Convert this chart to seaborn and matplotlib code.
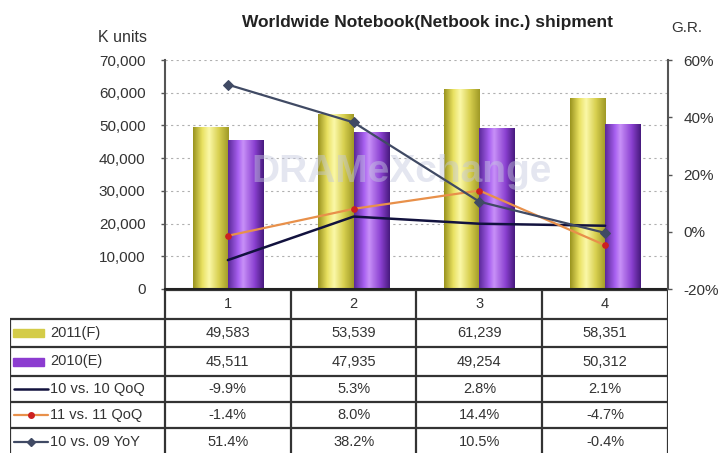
import numpy as np
import pandas as pd
import matplotlib
matplotlib.use('Agg')
import matplotlib.pyplot as plt
from matplotlib.colors import LinearSegmentedColormap
from matplotlib.patches import Rectangle
from matplotlib.lines import Line2D
import seaborn as sns

# данные с картинки
quarters = ['1', '2', '3', '4']
ship_2011 = [49583, 53539, 61239, 58351]
ship_2010 = [45511, 47935, 49254, 50312]
qoq_10 = [-9.9, 5.3, 2.8, 2.1]
qoq_11 = [-1.4, 8.0, 14.4, -4.7]
yoy_10 = [51.4, 38.2, 10.5, -0.4]

bar_names = ['2011(F)', '2010(E)']
line_names = ['10 vs. 10 QoQ', '11 vs. 11 QoQ', '10 vs. 09 YoY']

yellow = '#d4cc48'
purple = '#8c3cd0'
c_qoq10 = '#12123e'
c_qoq11 = '#e8904a'
c_qoq11_mk = '#cc2020'
c_yoy = '#404a64'

sns.set_style('white')
plt.rcParams['font.family'] = ['Liberation Sans', 'DejaVu Sans']
txt_col = '#333333'
fs_tick = 11
fs_tab = 10.5

fig = plt.figure(figsize=(7.2, 4.53), dpi=100)
W, H = 720, 453
ax = fig.add_axes([165 / W, 1 - 289 / H, (668 - 165) / W, (289 - 60) / H])

bars = pd.DataFrame({
    'quarter': quarters * 2,
    'value': ship_2011 + ship_2010,
    'series': [bar_names[0]] * 4 + [bar_names[1]] * 4,
})
sns.barplot(data=bars, x='quarter', y='value', hue='series', hue_order=bar_names,
            palette=[yellow, purple], saturation=1, width=0.56, gap=0, ax=ax,
            legend=False, zorder=2, linewidth=0)

# цилиндрическая заливка столбцов
cmap_y = LinearSegmentedColormap.from_list('y', [(0, '#9a9420'), (0.25, '#e8e060'), (0.45, '#fbf8a8'),
                                                (0.72, '#d8d050'), (1, '#a09a26')])
cmap_p = LinearSegmentedColormap.from_list('p', [(0, '#5c2a9a'), (0.28, '#a860f0'), (0.42, '#c890f8'),
                                                (0.75, '#8a40d0'), (1, '#481a7e')])
g = np.linspace(0, 1, 64)[np.newaxis, :]
for i, p in enumerate(list(ax.patches)):
    cmap = cmap_y if i < len(quarters) else cmap_p
    x0, y0, w, h = p.get_x(), p.get_y(), p.get_width(), p.get_height()
    im = ax.imshow(g, cmap=cmap, extent=[x0, x0 + w, y0, y0 + h], aspect='auto', zorder=2.1)
    im.set_clip_path(p)

ax.set_xlim(-0.5, 3.5)
ax.set_ylim(0, 70000)
ax.set_yticks(range(0, 70001, 10000))
ax.set_yticklabels([f'{v:,}' for v in range(0, 70001, 10000)], fontsize=fs_tick, color=txt_col)
ax.set_xticks([])
ax.set_xlabel('')
ax.set_ylabel('')
ax.yaxis.grid(True, color='#b0b0b0', linestyle=(0, (2, 3)), linewidth=0.8)
ax.set_axisbelow(True)
ax.tick_params(axis='y', length=3, width=1, pad=11, direction='out', left=True, color='#555555')
ax.spines['top'].set_visible(False)
ax.spines['left'].set_color('#555555')
ax.spines['left'].set_linewidth(1.5)
ax.spines['bottom'].set_color('#222222')
ax.spines['bottom'].set_linewidth(1.5)
ax.spines['right'].set_visible(False)

ax.text(0.47, 0.51, 'DRAMeXchange', transform=ax.transAxes, fontsize=28, fontweight='bold',
        color='#c4c8de', alpha=0.45, ha='center', va='center', zorder=5)

# темпы роста на правой оси
ax2 = ax.twinx()
xs = [0, 1, 2, 3]
sns.lineplot(x=xs, y=qoq_10, ax=ax2, color=c_qoq10, linewidth=1.8, zorder=3)
sns.lineplot(x=xs, y=qoq_11, ax=ax2, color=c_qoq11, linewidth=1.6, marker='o', markersize=4,
             markerfacecolor=c_qoq11_mk, markeredgecolor=c_qoq11_mk, zorder=3)
sns.lineplot(x=xs, y=yoy_10, ax=ax2, color=c_yoy, linewidth=1.6, marker='D', markersize=5,
             markeredgecolor=c_yoy, zorder=3)
ax2.set_xlim(-0.5, 3.5)
ax2.set_ylim(-20, 60)
ax2.set_yticks([-20, 0, 20, 40, 60])
ax2.set_yticklabels([f'{v}%' for v in [-20, 0, 20, 40, 60]], fontsize=fs_tick, color=txt_col)
ax2.tick_params(axis='y', length=3, width=1, pad=8, direction='out', right=True, color='#555555')
for s in ['top', 'left', 'bottom']:
    ax2.spines[s].set_visible(False)
ax2.spines['right'].set_color('#555555')
ax2.spines['right'].set_linewidth(1.5)
ax2.set_ylabel('')

fig.text(427 / W, 1 - 23 / H, 'Worldwide Notebook(Netbook inc.) shipment', fontsize=12.5,
         fontweight='bold', ha='center', va='center', color='#222222')
fig.text(122 / W, 1 - 38 / H, 'K units', fontsize=11.5, ha='center', va='center', color=txt_col)
fig.text(687 / W, 1 - 28 / H, 'G.R.', fontsize=fs_tick, ha='center', va='center', color=txt_col)

# таблица под графиком
cat_px = (668 - 165) / 4
left_x = -0.5 - (165 - 10) / cat_px
tax = fig.add_axes([10 / W, 0, (668 - 10) / W, 163 / H])
tax.set_xlim(left_x, 3.5)
tax.set_ylim(163, 0)
tax.axis('off')


def px2x(px):
    return left_x + (px - 10) / cat_px


edges = [0, 29, 57, 86, 112, 138, 166]
lc = '#333333'
tax.hlines(edges[0], -0.5, 3.5, color=lc, lw=1.6)
tax.hlines(edges[1:], left_x, 3.5, color=lc, lw=1.6)
tax.vlines([-0.5, 0.5, 1.5, 2.5, 3.5], 0, 170, color=lc, lw=1.6)
tax.vlines(left_x, edges[1], 170, color=lc, lw=1.6)

rows = [
    [f'{v:,}' for v in ship_2011],
    [f'{v:,}' for v in ship_2010],
    [f'{v:.1f}%' for v in qoq_10],
    [f'{v:.1f}%' for v in qoq_11],
    [f'{v:.1f}%' for v in yoy_10],
]
mids = [(edges[i] + edges[i + 1]) / 2 for i in range(len(edges) - 1)]
for j, q in enumerate(quarters):
    tax.text(j, mids[0], q, ha='center', va='center', fontsize=fs_tab, color=txt_col)
for i, row in enumerate(rows):
    for j, s in enumerate(row):
        tax.text(j, mids[i + 1], s, ha='center', va='center', fontsize=fs_tab, color=txt_col)

labels = bar_names + line_names
for i, lab in enumerate(labels):
    y = mids[i + 1]
    if i == 0:
        tax.add_patch(Rectangle((px2x(13), y - 4), px2x(44) - px2x(13), 8, color=yellow))
    elif i == 1:
        tax.add_patch(Rectangle((px2x(13), y - 4), px2x(44) - px2x(13), 8, color=purple))
    elif i == 2:
        tax.add_line(Line2D([px2x(14), px2x(48)], [y, y], color=c_qoq10, lw=1.8))
    elif i == 3:
        tax.add_line(Line2D([px2x(14), px2x(48)], [y, y], color=c_qoq11, lw=1.6))
        tax.add_line(Line2D([px2x(31)], [y], marker='o', markersize=4, color=c_qoq11_mk))
    else:
        tax.add_line(Line2D([px2x(14), px2x(48)], [y, y], color=c_yoy, lw=1.6))
        tax.add_line(Line2D([px2x(31)], [y], marker='D', markersize=4, color=c_yoy))
    tax.text(px2x(50), y, lab, ha='left', va='center', fontsize=fs_tab, color=txt_col)

fig.savefig('out.png', dpi=100)
